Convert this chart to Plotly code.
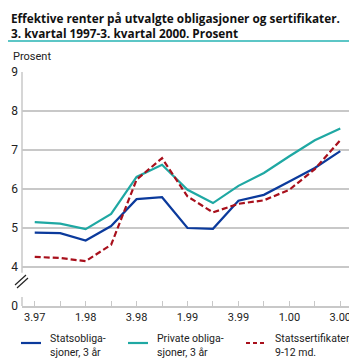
import plotly.graph_objects as go

quarters = ["3.97", "4.97", "1.98", "2.98", "3.98", "4.98", "1.99", "2.99",
            "3.99", "4.99", "1.00", "2.00", "3.00"]
tick_labels = ["3.97", "", "1.98", "", "3.98", "", "1.99", "", "3.99", "", "1.00", "", "3.00"]

stats_oblig = [4.88, 4.87, 4.68, 5.05, 5.74, 5.79, 5.00, 4.98, 5.70, 5.85, 6.19, 6.54, 6.97]
private_oblig = [5.15, 5.11, 4.97, 5.36, 6.31, 6.62, 5.98, 5.64, 6.08, 6.41, 6.84, 7.25, 7.55]
stats_sert = [4.26, 4.23, 4.15, 4.57, 6.24, 6.79, 5.81, 5.40, 5.62, 5.71, 5.98, 6.51, 7.25]

series_names = ["Statsobliga-<br>sjoner, 3 år", "Private obliga-<br>sjoner, 3 år",
                "Statssertifikater,<br>9-12 md."]
series_colors = ["#0b3a9c", "#1fa8a3", "#a8101c"]
series_dash = ["solid", "solid", "6px,3px"]
legend_dash = ["solid", "solid", "4px,3px"]

# y-axis: values shown 4..9, with a broken axis where "0" is drawn at 3
y_tickvals = [3, 4, 5, 6, 7, 8, 9]
y_ticktext = ["0", "4", "5", "6", "7", "8", "9"]

x_idx = list(range(len(quarters)))

fig = go.Figure()
for vals, name, col, dash in zip([stats_oblig, private_oblig, stats_sert], series_names,
                                 series_colors, series_dash):
    fig.add_trace(go.Scatter(x=x_idx, y=vals, mode="lines", name=name,
                             line=dict(color=col, width=2.2, dash=dash)))

font_family = "Open Sans, DejaVu Sans, sans-serif"
legend_family = "Roboto, Open Sans, sans-serif"

# plot area in pixels: x 14..345, y 64..298
L, R, T, B = 14, 12, 64, 63
W, H = 357 - L - R, 361 - T - B


def px(x):
    return (x - L) / W


def py(y):
    return (361 - B - y) / H


fig.update_layout(
    width=357, height=361,
    margin=dict(l=L, r=R, t=T, b=B, autoexpand=False),
    paper_bgcolor="white", plot_bgcolor="white",
    font=dict(family=font_family, size=11, color="#222"),
    showlegend=False,
    xaxis=dict(range=[-0.5, 12.5], tickmode="array", tickvals=x_idx, ticktext=tick_labels,
               showgrid=False, zeroline=False, showline=True, linecolor="#c8c8c8", linewidth=1.5,
               ticks="inside", ticklen=5, tickcolor="#c8c8c8", tickwidth=1,
               tickfont=dict(size=11, color="#222", family=legend_family), fixedrange=True),
    yaxis=dict(range=[3, 9], tickmode="array", tickvals=y_tickvals, ticktext=y_ticktext,
               showgrid=True, gridcolor="#c8c8c8", gridwidth=1.5, zeroline=False,
               showline=False, ticks="", ticklabelstandoff=3,
               tickfont=dict(size=12, color="#222", family=legend_family), fixedrange=True),
)

shapes = []
# y-axis line with a break
shapes.append(dict(type="line", xref="paper", yref="y", x0=0, x1=0, y0=3.85, y1=9,
                   line=dict(color="#c8c8c8", width=1.5)))
shapes.append(dict(type="line", xref="paper", yref="y", x0=0, x1=0, y0=3.0, y1=3.23,
                   line=dict(color="#c8c8c8", width=1.5)))
# break marks
shapes.append(dict(type="line", xref="paper", yref="paper", x0=px(7), x1=px(18),
                   y0=py(277), y1=py(267), line=dict(color="#222", width=1.2)))
shapes.append(dict(type="line", xref="paper", yref="paper", x0=px(9), x1=px(20),
                   y0=py(280), y1=py(270), line=dict(color="#222", width=1.2)))
# teal rules under title and at bottom
shapes.append(dict(type="line", xref="paper", yref="paper", x0=px(0), x1=px(357),
                   y0=py(33), y1=py(33), line=dict(color="#5cc6c6", width=2)))
shapes.append(dict(type="line", xref="paper", yref="paper", x0=px(0), x1=px(357),
                   y0=py(359), y1=py(359), line=dict(color="#5cc6c6", width=2)))

# manual legend
legend_x = [13, 120, 238]
for lx, name, col, dash in zip(legend_x, series_names, series_colors, legend_dash):
    shapes.append(dict(type="line", xref="paper", yref="paper", x0=px(lx), x1=px(lx + 20),
                       y0=py(335), y1=py(335), line=dict(color=col, width=2.2, dash=dash)))
    fig.add_annotation(text=name, xref="paper", yref="paper", x=px(lx + 27), y=py(337),
                       xanchor="left", yanchor="middle", showarrow=False, align="left",
                       font=dict(size=10.5, color="#222", family=legend_family))
fig.update_layout(shapes=shapes)

fig.add_annotation(text="<b>Effektive renter på utvalgte obligasjoner og sertifikater.</b><br>"
                        "<b>3. kvartal 1997-3. kvartal 2000. Prosent</b>",
                   xref="paper", yref="paper", x=px(1), y=py(17.5), xanchor="left",
                   yanchor="middle", showarrow=False, align="left",
                   font=dict(size=11.8, color="#111", family=font_family))
fig.add_annotation(text="Prosent", xref="paper", yref="paper", x=px(3), y=py(48),
                   xanchor="left", yanchor="middle", showarrow=False,
                   font=dict(size=11, color="#222", family=legend_family))

fig.write_html("out.html")
